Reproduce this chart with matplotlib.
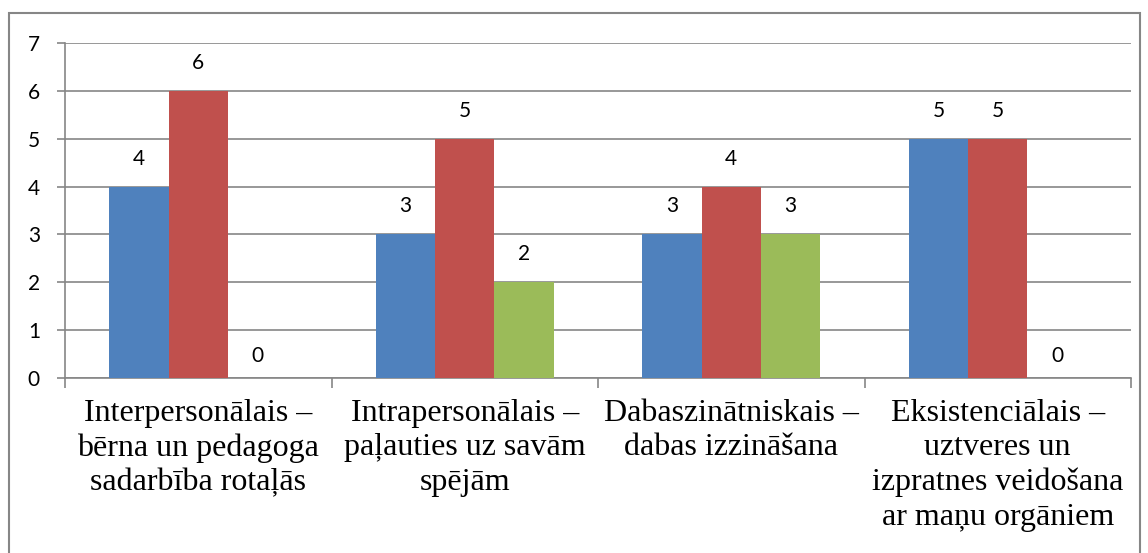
import matplotlib
matplotlib.use("Agg")
from matplotlib import pyplot as plt
from matplotlib.patches import Rectangle
import numpy as np

# Data
categories = ["Interpersonālais –\nbērna un pedagoga\nsadarbība rotaļās",
              "Intrapersonālais –\npaļauties uz savām\nspējām",
              "Dabaszinātniskais –\ndabas izzināšana",
              "Eksistenciālais –\nuztveres un\nizpratnes veidošana\nar maņu orgāniem"]
series_blue = [4, 3, 3, 5]
series_red = [6, 5, 4, 5]
series_green = [0, 2, 3, 0]

colors = ["#4F81BD", "#C0504D", "#9BBB59"]
gray = "#868686"

fig = plt.figure(figsize=(11.48, 5.53), dpi=100)
ax = fig.add_axes([65/1148, 175/553, (1131-65)/1148, (510-175)/553])

x = np.arange(len(categories))
w = 1/4.5
for i, (vals, c) in enumerate(zip([series_blue, series_red, series_green], colors)):
    pos = x + (i - 1) * w
    bars = ax.bar(pos, vals, width=w, color=c, zorder=3)
    for b, v in zip(bars, vals):
        off = 13 if v > 0 else 9
        ax.annotate(str(v), (b.get_x() + b.get_width()/2, v), xytext=(0, off),
                    textcoords="offset points", ha="center", va="bottom",
                    fontsize=15, family="Lato")

ax.set_xlim(-0.5, len(categories) - 0.5)
ax.set_ylim(0, 7)
ax.set_yticks(range(8))
ax.yaxis.grid(True, color=gray, linewidth=1.2, zorder=0)
ax.tick_params(axis="y", length=6, color=gray, width=1.2, labelsize=15, pad=12)
for lab in ax.get_yticklabels():
    lab.set_family("Lato")

ax.set_xticks(x)
ax.set_xticklabels(categories, family="Liberation Serif", fontsize=23, linespacing=1.25)
ax.tick_params(axis="x", which="major", length=0, pad=15)
ax.set_xticks(np.arange(-0.5, len(categories)), minor=True)
ax.tick_params(axis="x", which="minor", length=7, color=gray, width=1.2)

for s in ["top", "right"]:
    ax.spines[s].set_visible(False)
for s in ["left", "bottom"]:
    ax.spines[s].set_color(gray)
    ax.spines[s].set_linewidth(1.2)

# outer chart border
fig.patches.append(Rectangle((9/1148, -0.05), (1140-9)/1148, (553-13)/553 + 0.05,
                             transform=fig.transFigure, fill=False,
                             edgecolor=gray, linewidth=1.5))

fig.savefig("out.png", dpi=100)
